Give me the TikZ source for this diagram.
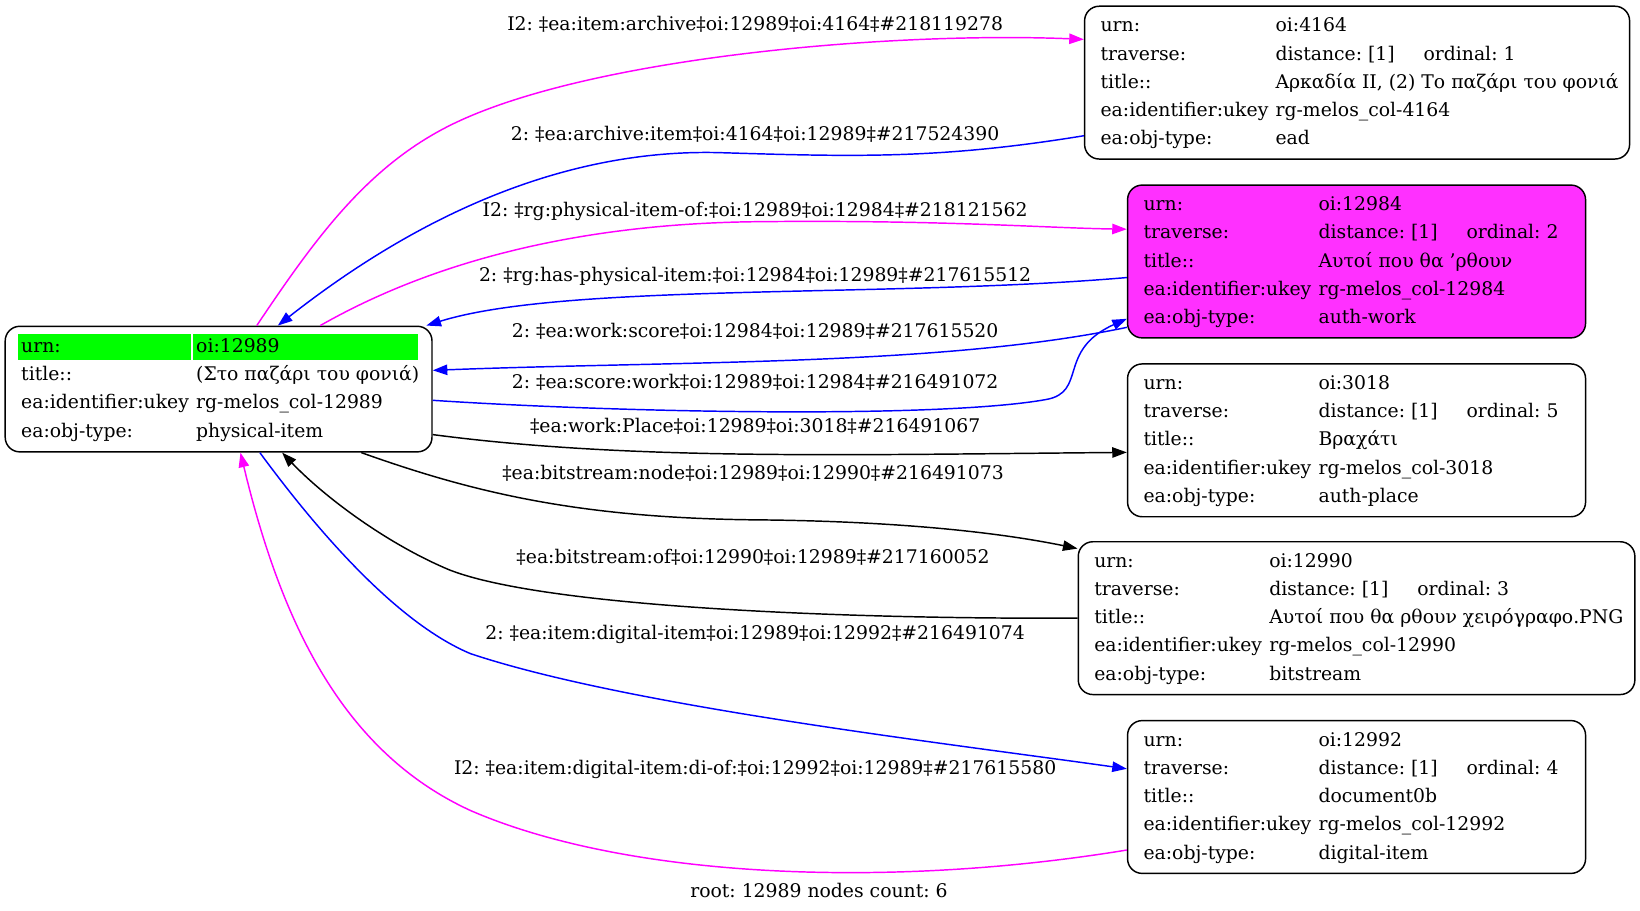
\documentclass[tikz,border=0pt]{standalone}
\usepackage{fontspec}
\setmainfont{DejaVu Serif}
\usepackage{array}
\usepackage{tikz}
\usetikzlibrary{arrows.meta}
\definecolor{urngreen}{RGB}{0,255,0}
\definecolor{workfill}{RGB}{255,48,255}
\definecolor{linkmag}{RGB}{255,0,255}
\definecolor{linkblue}{RGB}{0,0,255}
\newcommand{\greencell}[3]{\leavevmode\rlap{\hspace{-#1}\textcolor{urngreen}{\rule[-3.75pt]{#2}{12.85pt}}}#3}

\begin{document}
\begin{tikzpicture}[x=0.52296pt,y=-0.52296pt]
  \tikzstyle{rec}=[rectangle,draw,rounded corners=7.3pt,line width=0.73pt,inner xsep=8pt,inner ysep=0pt,font=\fontsize{9.4}{14.1}\selectfont\frenchspacing]
  \tikzstyle{lbl}=[inner sep=0pt,font=\fontsize{9.4}{14.1}\selectfont\frenchspacing]
  \tikzstyle{link}=[line width=0.73pt,-{Triangle[length=7.3pt,width=5.2pt]}]
  \useasboundingbox (0,0) rectangle (1568,871);
  % the root record
  \node [rec,minimum height=62.8pt] (root) at (209,372) {%
    \begin{tabular}{@{}w{l}{87.5pt}@{}w{l}{109.9pt}@{}}
    \greencell{1.35pt}{86.2pt}{urn:} & \greencell{1.65pt}{112.8pt}{oi:12989}\\
    title:: & (Στο παζάρι του φονιά)\\
    ea:identifier:ukey & rg-melos\_col-12989\\
    ea:obj-type: & physical-item
    \end{tabular}};
  % related records
  \node [rec,minimum height=76.4pt] (n4164) at (1297.5,79) {%
    \begin{tabular}{@{}w{l}{87.5pt}@{}w{l}{169pt}@{}}
    urn: & oi:4164\\
    traverse: & \makebox[74pt][l]{distance: [1]}ordinal: 1\\
    title:: & Αρκαδία ΙΙ, (2) Το παζάρι του φονιά\\
    ea:identifier:ukey & rg-melos\_col-4164\\
    ea:obj-type: & ead
    \end{tabular}};
  \node [rec,fill=workfill,minimum height=76.4pt] (n12984) at (1297,250) {%
    \begin{tabular}{@{}w{l}{87.5pt}@{}w{l}{125.5pt}@{}}
    urn: & oi:12984\\
    traverse: & \makebox[74pt][l]{distance: [1]}ordinal: 2\\
    title:: & Αυτοί που θα {\char"27}ρθουν\\
    ea:identifier:ukey & rg-melos\_col-12984\\
    ea:obj-type: & auth-work
    \end{tabular}};
  \node [rec,minimum height=76.4pt] (n3018) at (1297,421) {%
    \begin{tabular}{@{}w{l}{87.5pt}@{}w{l}{125.5pt}@{}}
    urn: & oi:3018\\
    traverse: & \makebox[74pt][l]{distance: [1]}ordinal: 5\\
    title:: & Βραχάτι\\
    ea:identifier:ukey & rg-melos\_col-3018\\
    ea:obj-type: & auth-place
    \end{tabular}};
  \node [rec,minimum height=76.4pt] (n12990) at (1297,591) {%
    \begin{tabular}{@{}w{l}{87.5pt}@{}w{l}{174.8pt}@{}}
    urn: & oi:12990\\
    traverse: & \makebox[74pt][l]{distance: [1]}ordinal: 3\\
    title:: & Αυτοί που θα ρθουν χειρόγραφο.PNG\\
    ea:identifier:ukey & rg-melos\_col-12990\\
    ea:obj-type: & bitstream
    \end{tabular}};
  \node [rec,minimum height=76.4pt] (n12992) at (1297,762) {%
    \begin{tabular}{@{}w{l}{87.5pt}@{}w{l}{125.5pt}@{}}
    urn: & oi:12992\\
    traverse: & \makebox[74pt][l]{distance: [1]}ordinal: 4\\
    title:: & document0b\\
    ea:identifier:ukey & rg-melos\_col-12992\\
    ea:obj-type: & digital-item
    \end{tabular}};
  % links
  \draw [link,linkmag] (root.59) .. controls (300,230) and (350,160) .. (430,120) .. controls (560,55) and (850,30) .. (n4164.171.5);
  \draw [link,linkblue] (n4164.191.7) .. controls (900,152) and (820,150) .. (690,146) .. controls (560,142) and (420,190) .. (root.47);
  \draw [link,linkmag] (root.32.8) .. controls (370,275) and (500,215) .. (720,212) .. controls (900,210) and (1000,218) .. (n12984.172.7);
  \draw [link,linkblue] (n12984.184.7) .. controls (850,285) and (540,270) .. (root.17.5);
  \draw [link,linkblue] (n12984.196.8) .. controls (900,350) and (650,345) .. (root.5.6);
  \draw [link,linkblue] (root.-3.1) .. controls (600,395) and (900,400) .. (1000,382) .. controls (1040,375) and (1010,335) .. (n12984.194.1);
  \draw [link] (root.-12.4) .. controls (600,440) and (800,435) .. (n3018.183.1);
  \draw [link] (root.-24.1) .. controls (450,470) and (550,495) .. (720,497) .. controls (850,498) and (950,508) .. (n12990.166);
  \draw [link] (n12990.180.4) .. controls (800,592) and (520,580) .. (430,545) .. controls (370,520) and (310,475) .. (root.-45.5);
  \draw [link,linkblue] (root.-57) .. controls (320,530) and (390,600) .. (450,625) .. controls (600,675) and (900,710) .. (n12992.173);
  \draw [link,linkmag] (n12992.193.6) .. controls (850,850) and (600,840) .. (450,775) .. controls (330,720) and (270,600) .. (root.-71.6);
  % link labels
  \node [lbl] (l4164a) at (722,23) {I2: ‡ea:item:archive‡oi:12989‡oi:4164‡\#218119278};
  \node [lbl] (l4164b) at (722,128) {2: ‡ea:archive:item‡oi:4164‡oi:12989‡\#217524390};
  \node [lbl] (l12984a) at (722,202) {I2: ‡rg:physical-item-of:‡oi:12989‡oi:12984‡\#218121562};
  \node [lbl] (l12984b) at (722,264) {2: ‡rg:has-physical-item:‡oi:12984‡oi:12989‡\#217615512};
  \node [lbl] (l12984c) at (722,317) {2: ‡ea:work:score‡oi:12984‡oi:12989‡\#217615520};
  \node [lbl] (l12984d) at (722,365) {2: ‡ea:score:work‡oi:12989‡oi:12984‡\#216491072};
  \node [lbl] (l3018) at (722,408) {‡ea:work:Place‡oi:12989‡oi:3018‡\#216491067};
  \node [lbl] (l12990a) at (720,452) {‡ea:bitstream:node‡oi:12989‡oi:12990‡\#216491073};
  \node [lbl] (l12990b) at (720,533) {‡ea:bitstream:of‡oi:12990‡oi:12989‡\#217160052};
  \node [lbl] (l12992a) at (722,607) {2: ‡ea:item:digital-item‡oi:12989‡oi:12992‡\#216491074};
  \node [lbl] (l12992b) at (722,736) {I2: ‡ea:item:digital-item:di-of:‡oi:12992‡oi:12989‡\#217615580};
  \node [lbl] (footer) at (783,851) {root: 12989 nodes count: 6};
\end{tikzpicture}
\end{document}
